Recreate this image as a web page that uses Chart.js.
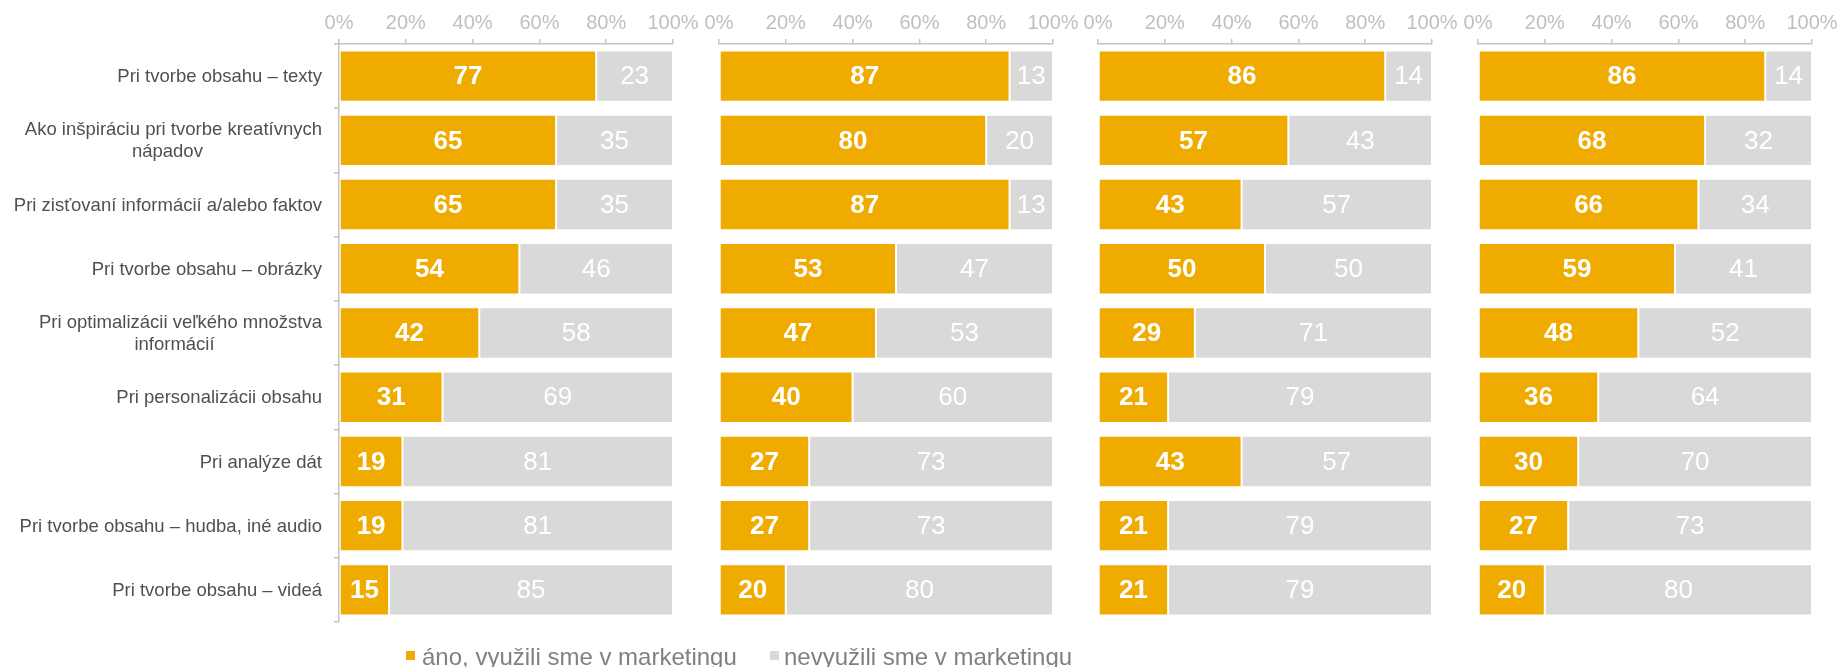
<!DOCTYPE html>
<html>
<head>
<meta charset="utf-8">
<script src="https://cdn.jsdelivr.net/npm/chart.js@4"></script>
<style>
  html, body { margin: 0; padding: 0; background: #fff; overflow: hidden; }
  #wrap { position: relative; width: 1842px; height: 667px; }
  #wrap canvas { position: absolute; left: 0; top: 0; }
  .lg { position: absolute; font: 24px "Liberation Sans", Arial, sans-serif; color: #808080; line-height: 24px; white-space: nowrap; }
  .sq { position: absolute; width: 9px; height: 9px; }
</style>
</head>
<body>
<div id="wrap">
  <canvas id="c1" width="1842" height="667"></canvas>
  <canvas id="c2" width="1842" height="667"></canvas>
  <canvas id="c3" width="1842" height="667"></canvas>
  <canvas id="c4" width="1842" height="667"></canvas>
  <div id="legend"></div>
</div>
<script>
// ---------- data ----------
const categories = [
  'Pri tvorbe obsahu – texty',
  ['Ako inšpiráciu pri tvorbe kreatívnych', 'nápadov'],
  'Pri zisťovaní informácií a/alebo faktov',
  'Pri tvorbe obsahu – obrázky',
  ['Pri optimalizácii veľkého množstva', 'informácií'],
  'Pri personalizácii obsahu',
  'Pri analýze dát',
  'Pri tvorbe obsahu – hudba, iné audio',
  'Pri tvorbe obsahu – videá'
];
const seriesNames = ['áno, využili sme v marketingu', 'nevyužili sme v marketingu'];

const yes1 = [77, 65, 65, 54, 42, 31, 19, 19, 15];
const no1  = [23, 35, 35, 46, 58, 69, 81, 81, 85];
const yes2 = [87, 80, 87, 53, 47, 40, 27, 27, 20];
const no2  = [13, 20, 13, 47, 53, 60, 73, 73, 80];
const yes3 = [86, 57, 43, 50, 29, 21, 43, 21, 21];
const no3  = [14, 43, 57, 50, 71, 79, 57, 79, 79];
const yes4 = [86, 68, 66, 59, 48, 36, 30, 27, 20];
const no4  = [14, 32, 34, 41, 52, 64, 70, 73, 80];

const xTicks = [0, 20, 40, 60, 80, 100];

// ---------- style ----------
const YELLOW = '#EFAB00';
const GREY = '#D9D9D9';
const AXIS = '#C4C4C4';
const FONT = '"Liberation Sans", Arial, sans-serif';

const W = 1842, H = 667;
const AXIS_TOP = 44, AXIS_BOTTOM = 622;
const panels = [
  { id: 'c1', left: 339, yes: yes1, no: no1 },
  { id: 'c2', left: 719, yes: yes2, no: no2 },
  { id: 'c3', left: 1098, yes: yes3, no: no3 },
  { id: 'c4', left: 1478, yes: yes4, no: no4 }
];
const PANEL_W = 334;

// numbers inside the bars
const barLabels = {
  id: 'barLabels',
  afterDatasetsDraw(chart) {
    const ctx = chart.ctx;
    chart.data.datasets.forEach((ds, i) => {
      chart.getDatasetMeta(i).data.forEach((bar, j) => {
        ctx.save();
        ctx.font = (i === 0 ? 'bold ' : '') + '26px ' + FONT;
        ctx.fillStyle = '#fff';
        ctx.textAlign = 'center';
        ctx.textBaseline = 'middle';
        ctx.fillText(ds.data[j], (bar.x + bar.base) / 2, bar.y + 1);
        ctx.restore();
      });
    });
  }
};

// category labels: right aligned block, lines centred inside the block
const catLabels = {
  id: 'catLabels',
  afterDraw(chart) {
    const ctx = chart.ctx;
    const y = chart.scales.y;
    const right = 322, lh = 22;
    ctx.save();
    ctx.font = '18.5px ' + FONT;
    ctx.fillStyle = '#505050';
    ctx.textAlign = 'center';
    ctx.textBaseline = 'middle';
    chart.data.labels.forEach((lab, i) => {
      const lines = Array.isArray(lab) ? lab : [lab];
      const w = Math.max(...lines.map(l => ctx.measureText(l).width));
      const cy = y.getPixelForValue(i);
      lines.forEach((l, k) => {
        const shift = k > 0 ? -6 : 0;
        ctx.fillText(l, right - w / 2 + shift, cy + (k - (lines.length - 1) / 2) * lh + 1);
      });
    });
    ctx.restore();
  }
};

panels.forEach((p, n) => {
  const first = n === 0;
  new Chart(document.getElementById(p.id), {
    type: 'bar',
    data: {
      labels: categories,
      datasets: [
        { label: seriesNames[0], data: p.yes, backgroundColor: YELLOW, borderColor: '#fff', borderWidth: 1, borderSkipped: false },
        { label: seriesNames[1], data: p.no, backgroundColor: GREY, borderColor: '#fff', borderWidth: 1, borderSkipped: false }
      ]
    },
    options: {
      indexAxis: 'y',
      responsive: false,
      animation: false,
      barPercentage: 0.8,
      categoryPercentage: 1,
      layout: {
        padding: { left: 0, right: W - p.left - PANEL_W, top: 0, bottom: H - AXIS_BOTTOM }
      },
      plugins: { legend: { display: false }, tooltip: { enabled: false } },
      scales: {
        x: {
          position: 'top',
          stacked: true,
          min: 0,
          max: 100,
          afterBuildTicks: s => { s.ticks = xTicks.map(v => ({ value: v })); },
          afterFit: s => { s.height = AXIS_TOP; },
          ticks: { color: '#BFBFBF', font: { family: FONT, size: 20 }, padding: 4, callback: v => v + '%', maxRotation: 0 },
          grid: { drawOnChartArea: false, tickLength: 5, color: AXIS, lineWidth: 1.5 },
          border: { color: AXIS, width: 1.5 }
        },
        y: {
          stacked: true,
          afterFit: s => { s.width = p.left; },
          ticks: { display: false },
          grid: { display: first, drawOnChartArea: false, tickLength: 5, color: AXIS, lineWidth: 1.5, offset: true },
          border: { display: first, color: AXIS, width: 1.5 }
        }
      }
    },
    plugins: first ? [barLabels, catLabels] : [barLabels]
  });
});

// legend
const legend = document.getElementById('legend');
[{ sq: 406, tx: 422, c: YELLOW }, { sq: 770, tx: 784, c: GREY }].forEach((it, i) => {
  const s = document.createElement('div');
  s.className = 'sq';
  s.style.left = it.sq + 'px';
  s.style.top = '651px';
  s.style.background = it.c;
  legend.appendChild(s);
  const t = document.createElement('div');
  t.className = 'lg';
  t.style.left = it.tx + 'px';
  t.style.top = '645px';
  t.textContent = seriesNames[i];
  legend.appendChild(t);
});
</script>
</body>
</html>
